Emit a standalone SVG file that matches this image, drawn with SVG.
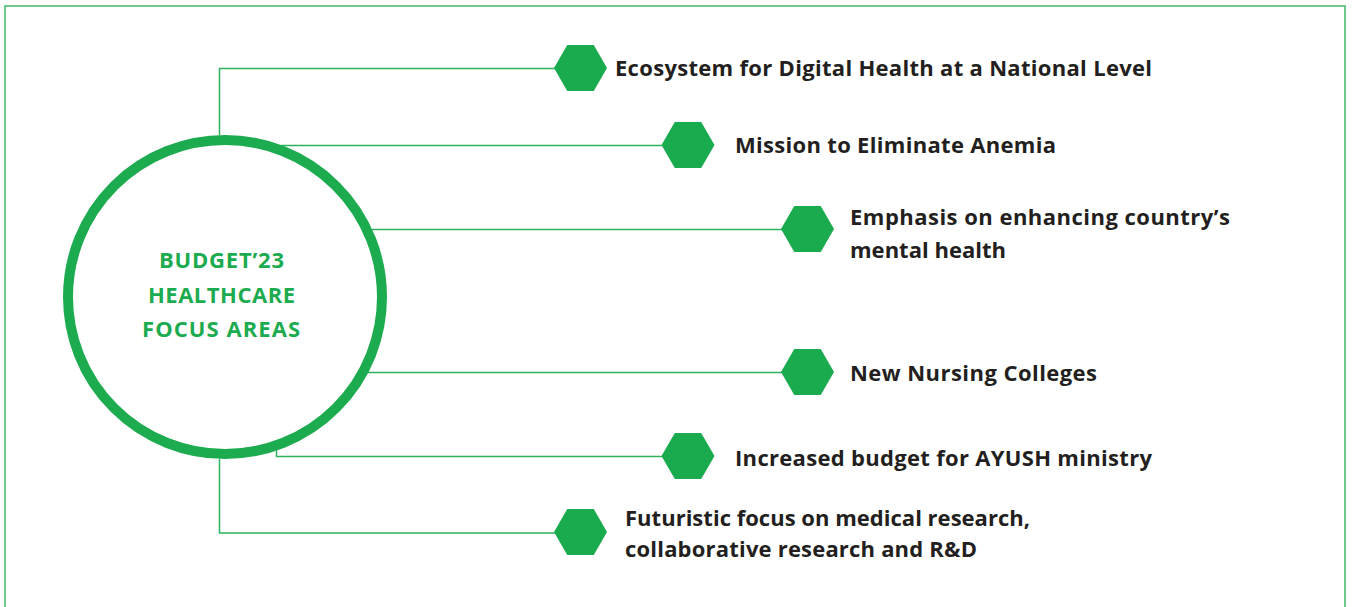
<svg xmlns="http://www.w3.org/2000/svg" xmlns:xlink="http://www.w3.org/1999/xlink" width="1352" height="607" viewBox="0 0 1352 607">
<style>
.frame{fill:none;stroke:#4dbd72;stroke-width:1.6}
.conn{fill:none;stroke:#2fb25f;stroke-width:1.5}
.hex{fill:#1bab4f}
.lbl{font-family:"Open Sans",Lato,"Liberation Sans",sans-serif;font-weight:bold;font-size:22px;fill:#231f20}
.ctr{font-family:"Open Sans",Lato,"Liberation Sans",sans-serif;font-weight:bold;font-size:22px;fill:#1dab4f;text-anchor:middle}
</style>
<defs>
<polygon id="hx" points="-26.5,0 -13.25,-23 13.25,-23 26.5,0 13.25,23 -13.25,23"/>
</defs>
<rect class="frame" x="5" y="6" width="1340" height="620"/>
<g id="connectors">
<polyline class="conn" points="219.5,135 219.5,68.5 556,68.5"/>
<polyline class="conn" points="281,145.5 664,145.5"/>
<polyline class="conn" points="372,229.5 783,229.5"/>
<polyline class="conn" points="368,372.5 783,372.5"/>
<polyline class="conn" points="276.5,450 276.5,456.5 664,456.5"/>
<polyline class="conn" points="219.5,459 219.5,533 556,533"/>
</g>
<g id="center">
<circle cx="225" cy="297" r="157" fill="#fff" stroke="#1dab4f" stroke-width="10"/>
<text class="ctr" x="221.5" y="268" textLength="125">BUDGET’23</text>
<text class="ctr" x="221.5" y="303" textLength="147">HEALTHCARE</text>
<text class="ctr" x="221" y="337" textLength="158">FOCUS AREAS</text>
</g>
<g id="n1"><use xlink:href="#hx" class="hex" x="580.5" y="68"/><text class="lbl" x="615" y="76" textLength="537">Ecosystem for Digital Health at a National Level</text></g>
<g id="n2"><use xlink:href="#hx" class="hex" x="688" y="145"/><text class="lbl" x="735" y="153" textLength="321">Mission to Eliminate Anemia</text></g>
<g id="n3"><use xlink:href="#hx" class="hex" x="807.5" y="229"/><text class="lbl" x="850" y="225" textLength="380">Emphasis on enhancing country’s</text><text class="lbl" x="850" y="258" textLength="156">mental health</text></g>
<g id="n4"><use xlink:href="#hx" class="hex" x="807.5" y="372"/><text class="lbl" x="850" y="381" textLength="247">New Nursing Colleges</text></g>
<g id="n5"><use xlink:href="#hx" class="hex" x="688" y="456"/><text class="lbl" x="735" y="466" textLength="417">Increased budget for AYUSH ministry</text></g>
<g id="n6"><use xlink:href="#hx" class="hex" x="580.5" y="532"/><text class="lbl" x="625" y="526" textLength="405">Futuristic focus on medical research,</text><text class="lbl" x="625" y="557" textLength="352">collaborative research and R&amp;D</text></g>
</svg>
